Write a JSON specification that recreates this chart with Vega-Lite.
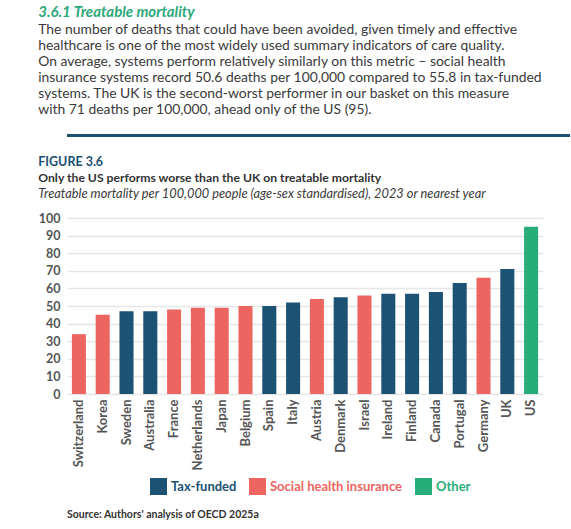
{
  "$schema": "https://vega.github.io/schema/vega-lite/v6.json",
  "padding": {"left": 38, "top": 4, "right": 0, "bottom": 0},
  "background": "white",
  "config": {
    "font": "Lato",
    "view": {"stroke": null}
  },
  "title": {
    "text": "3.6.1 Treatable mortality",
    "subtitle": [
      "The number of deaths that could have been avoided, given timely and effective",
      "healthcare is one of the most widely used summary indicators of care quality.",
      "On average, systems perform relatively similarly on this metric – social health",
      "insurance systems record 50.6 deaths per 100,000 compared to 55.8 in tax-funded",
      "systems. The UK is the second-worst performer in our basket on this measure",
      "with 71 deaths per 100,000, ahead only of the US (95)."
    ],
    "anchor": "start",
    "fontSize": 15,
    "fontStyle": "italic",
    "fontWeight": "bold",
    "color": "#2ba879",
    "subtitleFontSize": 13.9,
    "subtitleColor": "#3a3a3a",
    "subtitleLineHeight": 16,
    "subtitlePadding": 3,
    "offset": 16
  },
  "align": "none",
  "spacing": 16,
  "vconcat": [
    {
      "width": 503,
      "height": 3,
      "data": {"values": [{}]},
      "mark": {"type": "point", "opacity": 0},
      "view": {"fill": "#1d4f70", "stroke": null}
    },
    {
      "title": {
        "text": "FIGURE 3.6",
        "subtitle": "Only the US performs worse than the UK on treatable mortality",
        "anchor": "start",
        "fontSize": 12.5,
        "fontWeight": "bold",
        "color": "#1d4f70",
        "subtitleFontSize": 12.2,
        "subtitleFontWeight": "bold",
        "subtitleColor": "#333333",
        "subtitlePadding": 4,
        "offset": 4
      },
      "align": "none",
      "vconcat": [
        {
          "width": 476,
          "height": 176,
          "title": {
            "text": "Treatable mortality per 100,000 people (age-sex standardised), 2023 or nearest year",
            "anchor": "start",
            "frame": "bounds",
            "fontSize": 12.8,
            "fontStyle": "italic",
            "fontWeight": "normal",
            "color": "#3a3a3a",
            "offset": 11
          },
          "data": {
            "values": [
              {"country": "Switzerland", "value": 34, "system": "Social health insurance"},
              {"country": "Korea", "value": 45, "system": "Social health insurance"},
              {"country": "Sweden", "value": 47, "system": "Tax-funded"},
              {"country": "Australia", "value": 47, "system": "Tax-funded"},
              {"country": "France", "value": 48, "system": "Social health insurance"},
              {"country": "Netherlands", "value": 49, "system": "Social health insurance"},
              {"country": "Japan", "value": 49, "system": "Social health insurance"},
              {"country": "Belgium", "value": 50, "system": "Social health insurance"},
              {"country": "Spain", "value": 50, "system": "Tax-funded"},
              {"country": "Italy", "value": 52, "system": "Tax-funded"},
              {"country": "Austria", "value": 54, "system": "Social health insurance"},
              {"country": "Denmark", "value": 55, "system": "Tax-funded"},
              {"country": "Israel", "value": 56, "system": "Social health insurance"},
              {"country": "Ireland", "value": 57, "system": "Tax-funded"},
              {"country": "Finland", "value": 57, "system": "Tax-funded"},
              {"country": "Canada", "value": 58, "system": "Tax-funded"},
              {"country": "Portugal", "value": 63, "system": "Tax-funded"},
              {"country": "Germany", "value": 66, "system": "Social health insurance"},
              {"country": "UK", "value": 71, "system": "Tax-funded"},
              {"country": "US", "value": 95, "system": "Other"}
            ]
          },
          "mark": {"type": "bar"},
          "encoding": {
            "x": {
              "field": "country",
              "type": "nominal",
              "sort": null,
              "scale": {"paddingInner": 0.41, "paddingOuter": 0.205},
              "axis": {
                "title": null,
                "labelAngle": -90,
                "labelFontSize": 13,
                "labelFontWeight": "bold",
                "labelColor": "#555555",
                "labelPadding": 5,
                "ticks": false,
                "domain": false
              }
            },
            "y": {
              "field": "value",
              "type": "quantitative",
              "scale": {"domain": [0, 100]},
              "axis": {
                "title": null,
                "values": [0, 10, 20, 30, 40, 50, 60, 70, 80, 90, 100],
                "labelFontSize": 12.5,
                "labelFontWeight": "bold",
                "labelColor": "#555555",
                "labelPadding": 7,
                "ticks": false,
                "domain": false,
                "gridColor": "#e6e6e6",
                "gridWidth": 1.5
              }
            },
            "color": {
              "field": "system",
              "type": "nominal",
              "scale": {
                "domain": ["Tax-funded", "Social health insurance", "Other"],
                "range": ["#1c5274", "#ec6560", "#27ad7a"]
              },
              "legend": {
                "title": null,
                "orient": "none",
                "direction": "horizontal",
                "legendX": 83,
                "legendY": 344,
                "padding": 0,
                "symbolType": "square",
                "symbolSize": 289,
                "symbolStrokeWidth": 0,
                "symbolOpacity": 1,
                "labelFontSize": 13,
                "labelFontWeight": "bold",
                "labelOffset": 4,
                "columnPadding": 12,
                "encode": {
                  "labels": {
                    "update": {
                      "fill": {"signal": "datum.value === 'Tax-funded' ? '#1c5274' : datum.value === 'Other' ? '#27ad7a' : '#ec6560'"}
                    }
                  }
                }
              }
            }
          }
        }
      ]
    },
    {
      "width": 200,
      "height": 22,
      "data": {"values": [{}]},
      "mark": {"type": "point", "opacity": 0},
      "title": {
        "text": "Source: Authors' analysis of OECD 2025a",
        "orient": "bottom",
        "anchor": "start",
        "fontSize": 10.5,
        "fontWeight": "bold",
        "color": "#333333",
        "offset": 2
      }
    }
  ]
}
